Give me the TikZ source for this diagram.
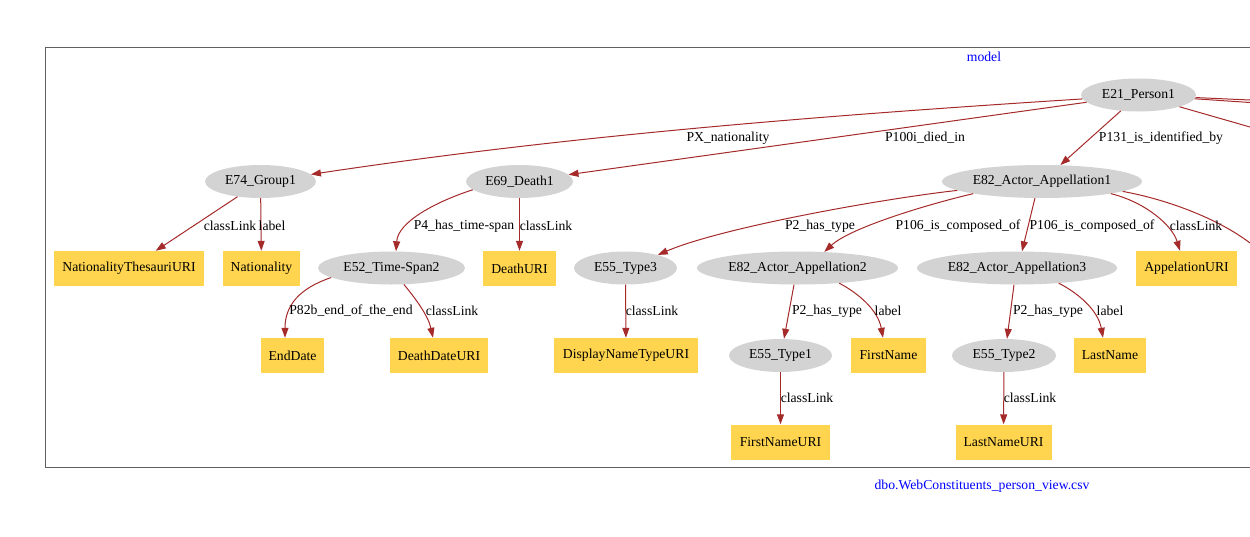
\documentclass[tikz,border=0pt]{standalone}
\usepackage{fontspec}
\setmainfont{Liberation Serif}
\usetikzlibrary{shapes.geometric,arrows.meta}
\definecolor{entgray}{HTML}{D3D3D3}
\definecolor{lityellow}{HTML}{FFD54F}
\definecolor{edgered}{HTML}{A52A2A}
\definecolor{framegray}{HTML}{606060}
\tikzset{
  ent/.style={ellipse, fill=entgray, inner sep=0pt, minimum height=33pt, font=\fontsize{13.7}{16}\selectfont},
  lit/.style={rectangle, fill=lityellow, inner sep=0pt, minimum height=35pt, font=\fontsize{13.7}{16}\selectfont},
  edge/.style={draw=edgered, line width=1pt, -{Triangle[length=10pt,width=7pt]}},
  plainedge/.style={draw=edgered, line width=1pt},
  lbl/.style={inner sep=0pt, font=\fontsize{13.7}{16}\selectfont},
  title/.style={inner sep=0pt, text=blue, font=\fontsize{13.7}{16}\selectfont},
}
\begin{document}
\begin{tikzpicture}[x=1pt,y=1pt]
\useasboundingbox (0,0) rectangle (1250,-536);
% frame
\draw[framegray, line width=1pt] (1250,-47) -- (45,-47) -- (45,-467) -- (1250,-467);
\node[title] (model) at (984,-57) {model};
\node[title] (csv) at (982,-486) {dbo.WebConstituents\_person\_view.csv};

% level 0
\node[ent, minimum width=115pt] (e21) at (1138.5,-95) {E21\_Person1};
% level 1
\node[ent, minimum width=111pt] (e74) at (260.5,-181.5) {E74\_Group1};
\node[ent, minimum width=107pt] (e69) at (519.5,-181.5) {E69\_Death1};
\node[ent, minimum width=200pt] (e82a) at (1042,-181.5) {E82\_Actor\_Appellation1};
% level 2
\node[lit, minimum width=150pt] (ntu) at (129,-268.5) {NationalityThesauriURI};
\node[lit, minimum width=77pt] (nat) at (261.5,-268.5) {Nationality};
\node[ent, minimum width=147pt] (e52) at (391.5,-268) {E52\_Time-Span2};
\node[lit, minimum width=73pt] (du) at (519.5,-268.5) {DeathURI};
\node[ent, minimum width=103pt] (e55c) at (625.5,-268) {E55\_Type3};
\node[ent, minimum width=201pt] (e82b) at (797.5,-268) {E82\_Actor\_Appellation2};
\node[ent, minimum width=200pt] (e82c) at (1017,-268) {E82\_Actor\_Appellation3};
\node[lit, minimum width=101pt] (apu) at (1186.5,-268.5) {AppelationURI};
% level 3
\node[lit, minimum width=63pt] (ed) at (292.5,-355.5) {EndDate};
\node[lit, minimum width=98pt] (ddu) at (439,-355.5) {DeathDateURI};
\node[lit, minimum width=144pt] (dnt) at (626,-355.5) {DisplayNameTypeURI};
\node[ent, minimum width=103pt] (e55a) at (780.5,-355.5) {E55\_Type1};
\node[lit, minimum width=75pt] (fn) at (888.5,-355.5) {FirstName};
\node[ent, minimum width=104pt] (e55b) at (1004,-355.5) {E55\_Type2};
\node[lit, minimum width=72pt] (ln) at (1110,-355.5) {LastName};
% level 4
\node[lit, minimum width=99pt] (fnu) at (780.5,-442) {FirstNameURI};
\node[lit, minimum width=96pt] (lnu) at (1003.5,-442) {LastNameURI};

% free ends at the right border
\coordinate (r1) at (1250,-100);
\coordinate (r2) at (1250,-102.5);
\coordinate (r3) at (1250,-127);
\coordinate (r4) at (1250,-243);

% edges from E21
\draw[edge] (e21.184) .. controls (826,-115.3) and (571,-135.2) .. (e74.8);
\draw[edge] (e21) -- (e69);
\draw[edge] (e21) -- (e82a);
\draw[plainedge] (e21) -- (r1);
\draw[plainedge] (e21) -- (r2);
\draw[plainedge] (e21) -- (r3);
% E74
\draw[edge] (e74) -- (ntu);
\draw[edge] (e74) -- (nat);
% E69
\draw[edge] (e69.190) .. controls (435,-202) and (398,-222) .. ([xshift=4.5pt]e52.north);
\draw[edge] (e69) -- (du);
% E52
\draw[edge] (e52.189) .. controls (300,-288) and (285,-305) .. ([xshift=-7.5pt]ed.north);
\draw[edge] (e52.-53) .. controls (415,-298) and (428,-315) .. ([xshift=-6pt]ddu.north);
% E82_1
\draw[edge] (e82a.186) .. controls (880,-199) and (720,-228) .. (e55c.22);
\draw[edge] (e82a.190.6) .. controls (925,-205) and (850,-228) .. (e82b.31);
\draw[edge] (e82a.-113) -- ([xshift=5pt]e82c.north);
\draw[edge] (e82a.-10.6) .. controls (1145,-202) and (1172,-225) .. ([xshift=-6.5pt]apu.north);
\draw[plainedge] (e82a.-7) .. controls (1170,-200) and (1220,-220) .. (r4);
% level 2 to 3
\draw[edge] (e55c) -- (dnt);
\draw[edge] ([xshift=-3.5pt]e82b.south) -- ([xshift=3.5pt]e55a.north);
\draw[edge] (e82b.-20) .. controls (858,-293) and (878,-310) .. ([xshift=-5.5pt]fn.north);
\draw[edge] ([xshift=-3pt]e82c.south) -- ([xshift=3pt]e55b.north);
\draw[edge] (e82c.-20) .. controls (1078,-293) and (1098,-310) .. ([xshift=-7pt]ln.north);
% level 3 to 4
\draw[edge] (e55a) -- (fnu);
\draw[edge] (e55b) -- (lnu);

% edge labels
\node[lbl] (l1) at (728,-138) {PX\_nationality};
\node[lbl] (l2) at (925,-138) {P100i\_died\_in};
\node[lbl] (l3) at (1161,-138) {P131\_is\_identified\_by};
\node[lbl] (l4) at (230,-226) {classLink};
\node[lbl] (l5) at (272,-226) {label};
\node[lbl] (l6) at (464,-226) {P4\_has\_time-span};
\node[lbl] (l7) at (546,-226) {classLink};
\node[lbl] (l8) at (820,-226) {P2\_has\_type};
\node[lbl] (l9) at (958,-226) {P106\_is\_composed\_of};
\node[lbl] (l10) at (1092,-226) {P106\_is\_composed\_of};
\node[lbl] (l11) at (1196,-226) {classLink};
\node[lbl] (l12) at (351,-311) {P82b\_end\_of\_the\_end};
\node[lbl] (l13) at (452,-311) {classLink};
\node[lbl] (l14) at (652,-311) {classLink};
\node[lbl] (l15) at (827,-311) {P2\_has\_type};
\node[lbl] (l16) at (888,-311) {label};
\node[lbl] (l17) at (1048,-311) {P2\_has\_type};
\node[lbl] (l18) at (1110,-311) {label};
\node[lbl] (l19) at (807,-398) {classLink};
\node[lbl] (l20) at (1030,-398) {classLink};
\end{tikzpicture}
\end{document}
